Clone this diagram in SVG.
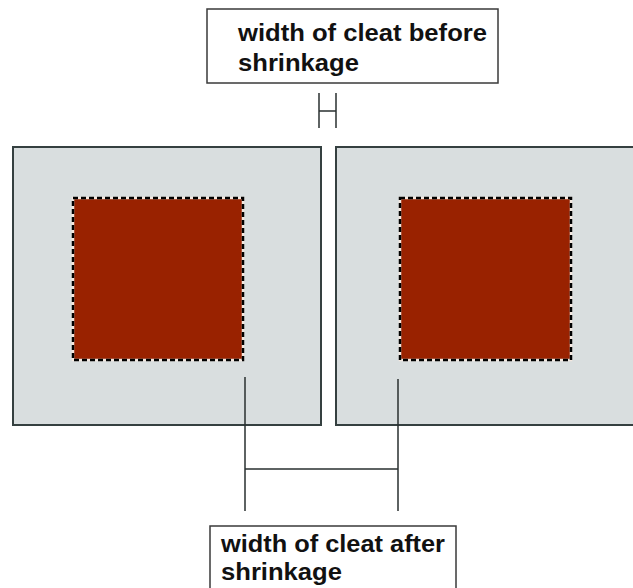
<svg xmlns="http://www.w3.org/2000/svg" width="633" height="588" viewBox="0 0 633 588">
<style>
.panel{fill:#d9dedf;stroke:#354040;stroke-width:2}
.core{fill:#992200}
.dash{fill:none;stroke:#000;stroke-width:2.5;stroke-dasharray:5 3}
.dashw{fill:none;stroke:#f4e8e0;stroke-width:2.5}
.lbl{fill:#fff;stroke:#3a3a3a;stroke-width:1.5}
.txt{font-family:"Liberation Sans",Arial,sans-serif;font-weight:bold;font-size:23px;fill:#111}
.ln{stroke:#2a3030;stroke-width:1.5;fill:none}
</style>
<rect width="633" height="588" fill="#fff"/>
<g id="left-panel">
<rect class="panel" x="13" y="147" width="308" height="278"/>
<rect class="core" x="73" y="198" width="170" height="162"/>
<rect class="dashw" x="73" y="198" width="170" height="162"/>
<rect class="dash" x="73" y="198" width="170" height="162"/>
</g>
<g id="right-panel">
<rect class="panel" x="336" y="147" width="310" height="278"/>
<rect class="core" x="400" y="198" width="171" height="162"/>
<rect class="dashw" x="400" y="198" width="171" height="162"/>
<rect class="dash" x="400" y="198" width="171" height="162"/>
</g>
<g id="label-before">
<rect class="lbl" x="207" y="9" width="291" height="74"/>
<text class="txt" x="238" y="41" textLength="249" lengthAdjust="spacingAndGlyphs">width of cleat before</text>
<text class="txt" x="238" y="71" textLength="121" lengthAdjust="spacingAndGlyphs">shrinkage</text>
</g>
<g id="label-after">
<rect class="lbl" x="210" y="526" width="246" height="80"/>
<text class="txt" x="221" y="552" textLength="224" lengthAdjust="spacingAndGlyphs">width of cleat after</text>
<text class="txt" x="221" y="580" textLength="121" lengthAdjust="spacingAndGlyphs">shrinkage</text>
</g>
<g id="connectors">
<path class="ln" d="M319 93V128M336 93V128M319 111H336"/>
<path class="ln" d="M245 377V511M398 379V511M245 469H398"/>
</g>
</svg>
